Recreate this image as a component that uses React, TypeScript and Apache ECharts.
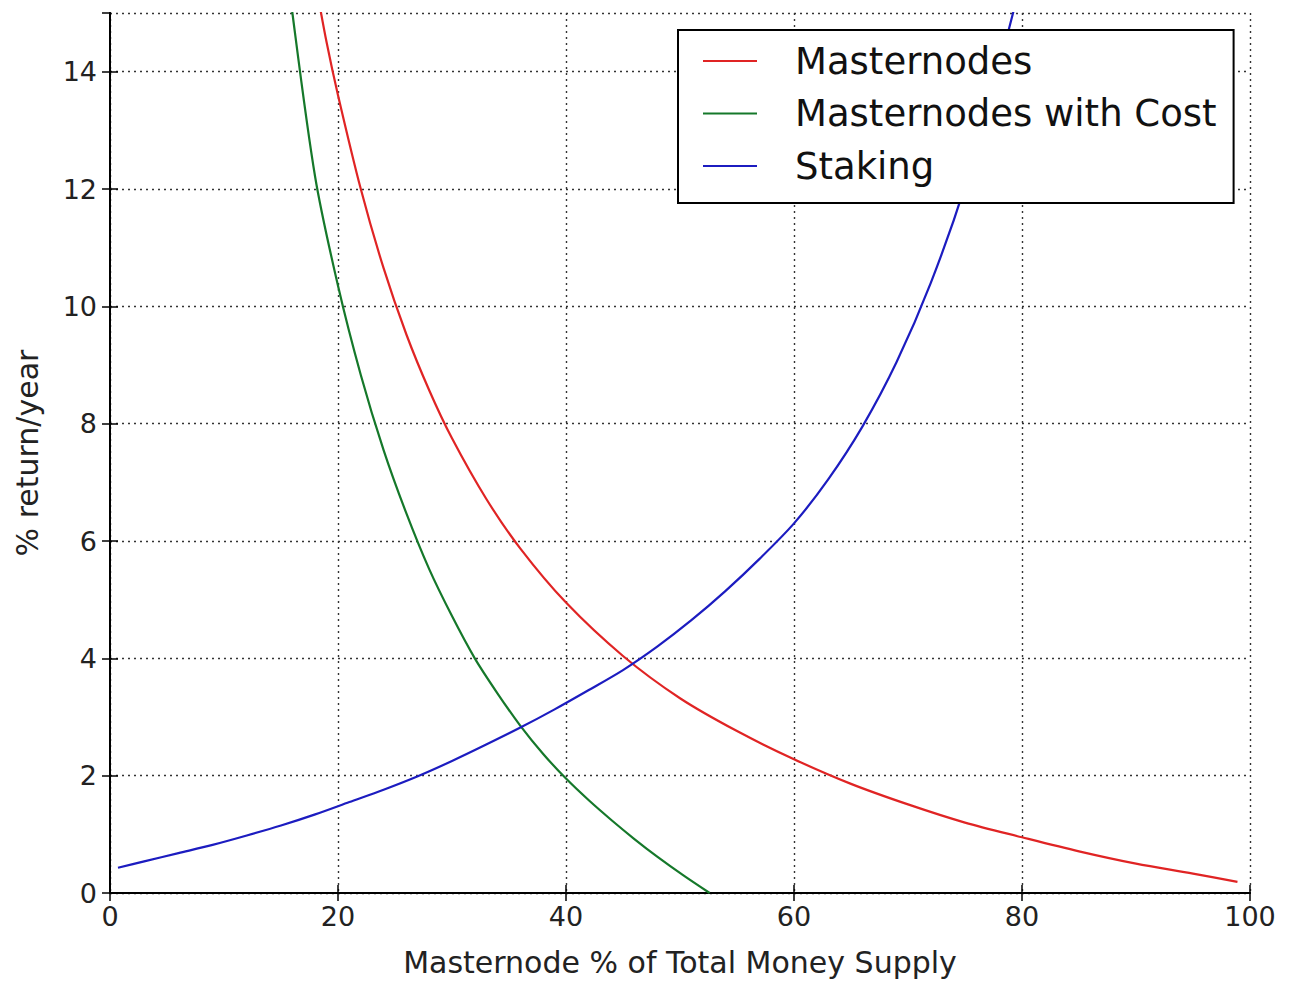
import React, { useEffect, useRef } from "react";
import * as echarts from "echarts";

const xTicks = [0, 20, 40, 60, 80, 100];
const yTicks = [0, 2, 4, 6, 8, 10, 12, 14];

const seriesNames = ["Masternodes", "Masternodes with Cost", "Staking"];

const masternodesX = [18.0, 19.0, 20.0, 22.0, 24.0, 26.0, 28.0, 30.0, 33.0, 36.0, 40.0, 45.0, 50.0, 55.0, 60.0, 65.0, 70.0, 75.0, 80.0, 85.0, 90.0, 95.0, 98.9];
const masternodesY = [15.55, 14.5, 13.6, 12.0, 10.65, 9.52, 8.57, 7.75, 6.72, 5.87, 4.95, 4.04, 3.32, 2.76, 2.28, 1.86, 1.51, 1.2, 0.95, 0.71, 0.5, 0.33, 0.19];

const withCostX = [15.4, 16.0, 18.0, 20.0, 22.0, 24.0, 26.0, 28.0, 30.0, 32.0, 34.0, 36.0, 38.0, 40.0, 42.0, 44.0, 46.0, 48.0, 50.3, 52.6];
const withCostY = [16.1, 15.0, 12.2, 10.35, 8.83, 7.55, 6.47, 5.52, 4.72, 4.0, 3.4, 2.85, 2.37, 1.95, 1.58, 1.24, 0.92, 0.62, 0.3, 0.0];

const stakingX = [0.7, 3, 6, 9, 12, 15, 18, 21, 24, 27, 30, 33, 36, 39, 42, 45, 48, 51, 54, 57, 60, 63, 66, 69, 72, 75, 78, 80];
const stakingY = [0.43, 0.54, 0.68, 0.82, 0.98, 1.15, 1.34, 1.55, 1.76, 1.99, 2.25, 2.53, 2.82, 3.13, 3.46, 3.8, 4.2, 4.65, 5.15, 5.7, 6.3, 7.05, 7.95, 9.05, 10.4, 12.05, 14.1, 15.6];

const colors = ["#e02424", "#15782a", "#1c1cc0"];

const zip = (xs: number[], ys: number[]) => xs.map((x, i) => [x, ys[i]]);

const FONT = "DejaVu Sans";

export default function App() {
  const ref = useRef<HTMLDivElement>(null);
  useEffect(() => {
    if (!ref.current) return;
    const chart = echarts.init(ref.current, null, { renderer: "svg" });
    const gridLine = { show: true, lineStyle: { color: "#333", type: [2, 4] as any, width: 1.4 } };
    const frameLine = { show: true, lineStyle: { color: "#000", width: 2 } };
    const ticks = { show: true, inside: true, length: 8, lineStyle: { color: "#000", width: 1.5 } };
    chart.setOption({
      animation: false,
      backgroundColor: "#fff",
      textStyle: { fontFamily: FONT },
      grid: { left: 110, right: 41, top: 13, bottom: 92, containLabel: false },
      legend: {
        orient: "vertical",
        left: 678,
        top: 30,
        backgroundColor: "#fff",
        borderColor: "#000",
        borderWidth: 2,
        padding: [11, 17, 17, 25],
        icon: "rect",
        itemWidth: 54,
        itemHeight: 2,
        itemGap: 12.5,
        data: seriesNames,
        textStyle: { fontFamily: FONT, fontSize: 37, color: "#111", lineHeight: 40, padding: [0, 0, 0, 33] },
      },
      xAxis: [
        {
          type: "value",
          min: 0,
          max: 100,
          interval: 20,
          name: "Masternode % of Total Money Supply",
          nameLocation: "middle",
          nameGap: 54,
          nameTextStyle: { fontFamily: FONT, fontSize: 30, color: "#222" },
          axisLine: frameLine,
          axisTick: ticks,
          splitLine: gridLine,
          axisLabel: { fontFamily: FONT, fontSize: 27, color: "#222", margin: 10, formatter: (v: number) => (xTicks.includes(v) ? String(v) : "") },
        },
        {
          type: "value",
          position: "top",
          min: 0,
          max: 100,
          interval: 20,
          axisLine: frameLine,
          axisTick: ticks,
          splitLine: { show: false },
          axisLabel: { show: false },
        },
      ],
      yAxis: [
        {
          type: "value",
          min: 0,
          max: 15,
          interval: 2,
          name: "% return/year",
          nameLocation: "middle",
          nameGap: 68,
          nameTextStyle: { fontFamily: FONT, fontSize: 30, color: "#222" },
          axisLine: frameLine,
          axisTick: ticks,
          splitLine: gridLine,
          axisLabel: { fontFamily: FONT, fontSize: 27, color: "#222", margin: 13, showMaxLabel: false, formatter: (v: number) => (yTicks.includes(v) ? String(v) : "") },
        },
        {
          type: "value",
          position: "right",
          min: 0,
          max: 15,
          interval: 2,
          axisLine: frameLine,
          axisTick: ticks,
          splitLine: { show: false },
          axisLabel: { show: false },
        },
      ],
      series: [
        { name: seriesNames[0], data: zip(masternodesX, masternodesY) },
        { name: seriesNames[1], data: zip(withCostX, withCostY) },
        { name: seriesNames[2], data: zip(stakingX, stakingY) },
      ].map((s, i) => ({
        ...s,
        type: "line",
        xAxisIndex: 0,
        yAxisIndex: 0,
        symbol: "none",
        smooth: 0.3,
        clip: true,
        color: colors[i],
        lineStyle: { color: colors[i], width: 2.2 },
      })),
    });
    return () => chart.dispose();
  }, []);
  return <div ref={ref} style={{ position: "absolute", left: 0, top: 0, width: 1291, height: 985 }} />;
}
